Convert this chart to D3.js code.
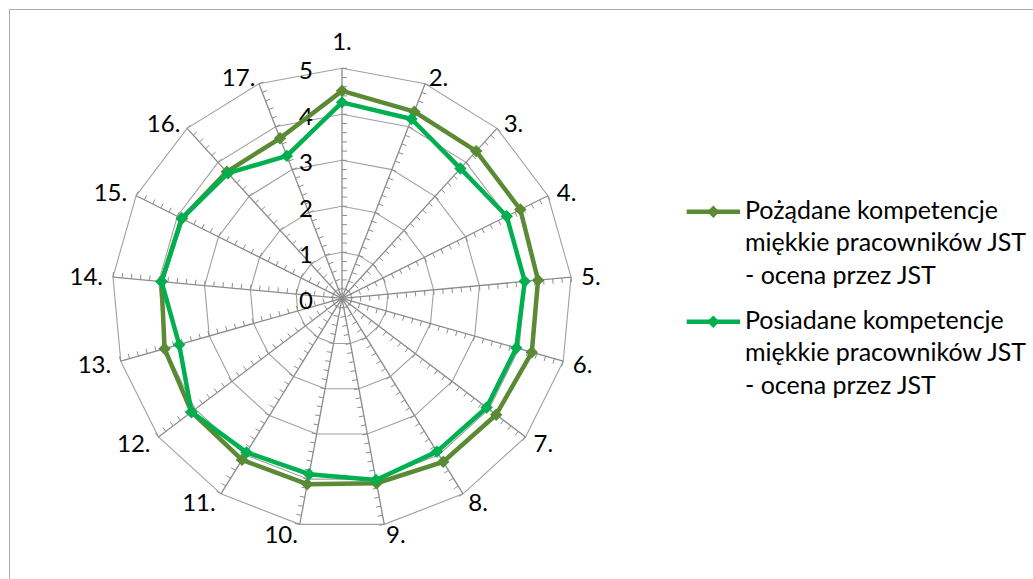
<!DOCTYPE html>
<html>
<head>
<meta charset="utf-8">
<script src="https://cdn.jsdelivr.net/npm/d3@7"></script>
<style>
  html, body { margin: 0; padding: 0; background: #fff; }
  svg { display: block; font-family: Lato, "Open Sans", sans-serif; }
</style>
</head>
<body>
<svg id="chart" width="1033" height="579"></svg>
<script>
// Competence categories (spokes, clockwise from the top)
const categories = ["1.", "2.", "3.", "4.", "5.", "6.", "7.", "8.", "9.", "10.", "11.", "12.", "13.", "14.", "15.", "16.", "17."];

// Desired soft skills of local government staff, rated by the units
const desired = [4.51, 4.35, 4.33, 4.33, 4.28, 4.29, 4.20, 4.18, 4.09, 4.11, 4.13, 4.10, 4.01, 3.94, 3.89, 3.72, 3.73];
// Soft skills actually held, rated by the units
const possessed = [4.26, 4.18, 3.82, 4.00, 3.99, 3.94, 3.94, 3.92, 4.02, 3.89, 3.94, 4.10, 3.68, 3.94, 3.89, 3.68, 3.32];

const valueTicks = [0, 1, 2, 3, 4, 5];
const minorTicks = d3.range(1, 26).map(k => k / 5);

const seriesNames = [
  ["Pożądane kompetencje", "miękkie pracowników JST", "- ocena przez JST"],
  ["Posiadane kompetencje", "miękkie pracowników JST", "- ocena przez JST"]
];
const seriesColors = ["#5A8A34", "#00B050"];

const svg = d3.select("#chart");
const W = 1033, H = 579;
const cx = 342, cy = 298.3, R = 230;
const FS = 24;      // axis labels
const LFS = 25;     // legend labels

// outer frame of the chart area (runs past the right and bottom edges)
svg.append("rect")
  .attr("x", 9.5).attr("y", 9.5)
  .attr("width", W + 10).attr("height", H + 10)
  .attr("fill", "#fff").attr("stroke", "#ABABAB").attr("stroke-width", 1);

const g = svg.append("g").attr("transform", `translate(${cx},${cy})`);

const r = d3.scaleLinear().domain([0, 5]).range([0, R]);
const step = 2 * Math.PI / categories.length;
const ang = i => i * step;

const radial = d3.lineRadial()
  .angle((d, i) => ang(i))
  .radius(d => r(d))
  .curve(d3.curveLinearClosed);

// concentric grid polygons
g.append("g").selectAll("path")
  .data(valueTicks.filter(v => v > 0))
  .join("path")
  .attr("d", v => radial(categories.map(() => v)))
  .attr("fill", "none")
  .attr("stroke", "#A0A0A0")
  .attr("stroke-width", 1.1);

// spokes with minor tick marks
const spokes = g.append("g");
categories.forEach((c, i) => {
  const a = ang(i);
  const sx = Math.sin(a), sy = -Math.cos(a);
  spokes.append("line")
    .attr("x1", 0).attr("y1", 0)
    .attr("x2", r(5) * sx).attr("y2", r(5) * sy)
    .attr("stroke", "#8C8C8C").attr("stroke-width", 1.3);
  // ticks point toward the clockwise neighbour
  const px = Math.cos(a), py = Math.sin(a);
  spokes.selectAll(null)
    .data(minorTicks)
    .join("line")
    .attr("x1", v => r(v) * sx).attr("y1", v => r(v) * sy)
    .attr("x2", v => r(v) * sx + 5 * px).attr("y2", v => r(v) * sy + 5 * py)
    .attr("stroke", "#8C8C8C").attr("stroke-width", 1);
});

// value labels along the first spoke
g.append("g").selectAll("text")
  .data(valueTicks)
  .join("text")
  .attr("x", -29)
  .attr("y", v => -r(v) + 2.5 + 0.36 * FS)
  .attr("text-anchor", "end")
  .attr("font-size", FS)
  .attr("fill", "#000")
  .text(v => v);

// category labels around the outside
g.append("g").selectAll("text")
  .data(categories)
  .join("text")
  .each(function (c, i) {
    const a = ang(i);
    const s = Math.sin(a), co = Math.cos(a);
    const ex = R * s, ey = -R * co;
    let x, yc, anchor;
    if (Math.abs(s) < 0.05) {
      anchor = "middle"; x = ex; yc = ey - 27;
    } else {
      anchor = s > 0 ? "start" : "end";
      x = ex + 10 * s;
      yc = ey - co * (co < 0 ? 10.5 : 7);
    }
    d3.select(this)
      .attr("x", x)
      .attr("y", yc + 0.36 * FS)
      .attr("text-anchor", anchor)
      .attr("font-size", FS)
      .attr("fill", "#000")
      .text(c);
  });

// data series
const diamond = s => `M0,${-s}L${s},0L0,${s}L${-s},0Z`;
[desired, possessed].forEach((vals, k) => {
  const sg = g.append("g");
  sg.append("path")
    .attr("d", radial(vals))
    .attr("fill", "none")
    .attr("stroke", seriesColors[k])
    .attr("stroke-width", 4.5)
    .attr("stroke-linejoin", "round");
  sg.selectAll("path.m")
    .data(vals)
    .join("path")
    .attr("class", "m")
    .attr("transform", (d, i) => `translate(${r(d) * Math.sin(ang(i))},${-r(d) * Math.cos(ang(i))})`)
    .attr("d", diamond(6.2))
    .attr("fill", seriesColors[k]);
});

// legend
const lg = svg.append("g");
const legendTop = [211.7, 321.7];
seriesNames.forEach((lines, k) => {
  const y0 = legendTop[k];
  lg.append("line")
    .attr("x1", 686.7).attr("x2", 740)
    .attr("y1", y0).attr("y2", y0)
    .attr("stroke", seriesColors[k]).attr("stroke-width", 4.5);
  lg.append("path")
    .attr("transform", `translate(713.3,${y0})`)
    .attr("d", diamond(6.2))
    .attr("fill", seriesColors[k]);
  lines.forEach((t, j) => {
    lg.append("text")
      .attr("x", 745)
      .attr("y", y0 + 7 + j * 32.4)
      .attr("font-size", LFS)
      .attr("fill", "#000")
      .text(t);
  });
});
</script>
</body>
</html>
